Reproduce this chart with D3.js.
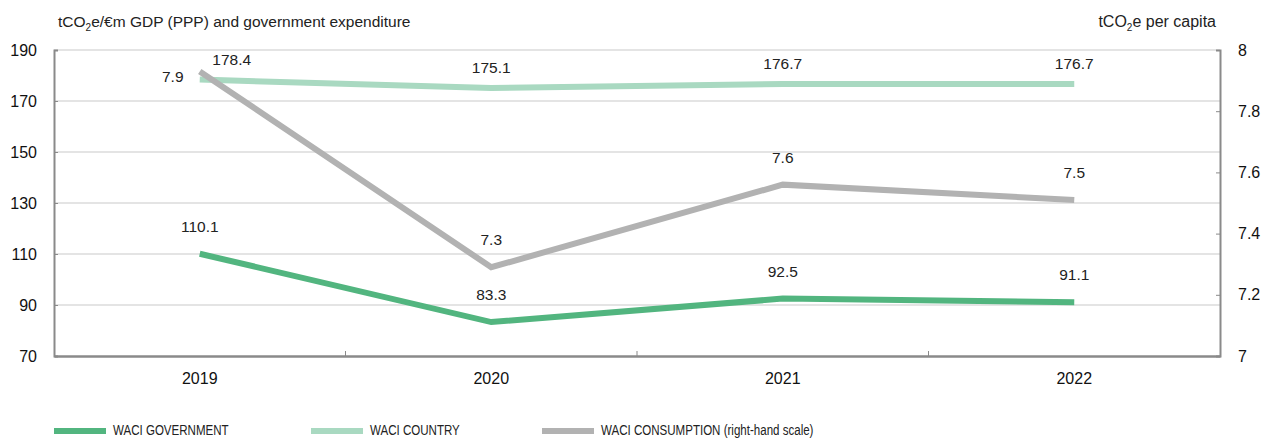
<!DOCTYPE html>
<html>
<head>
<meta charset="utf-8">
<script src="https://cdn.jsdelivr.net/npm/d3@7"></script>
<style>
  body { margin: 0; background: #fff; }
  svg { display: block; font-family: "Liberation Sans", Arial, sans-serif; }
</style>
</head>
<body>
<svg id="chart" width="1261" height="439"></svg>
<script>
// data
var years = ['2019', '2020', '2021', '2022']
var waciGovernment = [110.1, 83.3, 92.5, 91.1]
var waciCountry = [178.4, 175.1, 176.7, 176.7]
var waciConsumption = [7.93, 7.29, 7.56, 7.51]
var leftTicks = [70, 90, 110, 130, 150, 170, 190]
var rightTicks = [7, 7.2, 7.4, 7.6, 7.8, 8]
var legendLabels = ['WACI GOVERNMENT', 'WACI COUNTRY', 'WACI CONSUMPTION (right-hand scale)']

var GREEN = '#52b57f'
var LIGHT = '#a9d9c1'
var GREY = '#b2b2b2'
var AXIS = '#8a8a8a'

var m = { left: 54, right: 41, top: 50, bottom: 83 }
var W = 1261, H = 439

var svg = d3.select('#chart')

var x = d3.scaleBand().domain(years).range([m.left, W - m.right])
var yL = d3.scaleLinear().domain([70, 190]).range([H - m.bottom, m.top])
var yR = d3.scaleLinear().domain([7, 8]).range([H - m.bottom, m.top])
var cx = function (d, i) { return x(years[i]) + x.bandwidth() / 2 }

// gridlines
svg.append('g')
   .selectAll('line')
   .data(leftTicks.slice(1))
   .enter()
   .append('line')
   .attr('x1', m.left).attr('x2', W - m.right)
   .attr('y1', d => yL(d)).attr('y2', d => yL(d))
   .attr('stroke', '#c9c9c9')
   .attr('stroke-width', 1)

// left axis
var gl = svg.append('g')
            .attr('transform', 'translate(' + m.left + ',0)')
            .call(d3.axisLeft(yL).tickValues(leftTicks).tickSize(-4).tickPadding(17))
gl.select('.domain').attr('stroke', AXIS).attr('stroke-width', 2)
gl.selectAll('.tick line').attr('stroke', AXIS)
gl.selectAll('.tick text').attr('font-size', 16).attr('fill', '#111').attr('font-family', null)

// right axis
var gr = svg.append('g')
            .attr('transform', 'translate(' + (W - m.right) + ',0)')
            .call(d3.axisRight(yR).tickValues(rightTicks).tickSize(-4).tickPadding(18).tickFormat(d3.format('')))
gr.select('.domain').attr('stroke', AXIS).attr('stroke-width', 2)
gr.selectAll('.tick line').attr('stroke', AXIS)
gr.selectAll('.tick text').attr('font-size', 16).attr('fill', '#111').attr('font-family', null)

// bottom axis
var gb = svg.append('g')
            .attr('transform', 'translate(0,' + (H - m.bottom) + ')')
            .call(d3.axisBottom(x).tickSize(0).tickPadding(17))
gb.select('.domain').attr('stroke', AXIS).attr('stroke-width', 2.5)
gb.selectAll('.tick text').attr('font-size', 16).attr('fill', '#111').attr('font-family', null)
svg.append('g')
   .selectAll('line')
   .data(years.slice(1))
   .enter()
   .append('line')
   .attr('x1', d => x(d)).attr('x2', d => x(d))
   .attr('y1', H - m.bottom).attr('y2', H - m.bottom - 5)
   .attr('stroke', AXIS)
   .attr('stroke-width', 1)

// lines
var drawLine = function (values, y, color) {
  var line = d3.line().x(cx).y(d => y(d))
  svg.append('path')
     .datum(values)
     .attr('d', line)
     .attr('fill', 'none')
     .attr('stroke', color)
     .attr('stroke-width', 6)
     .attr('stroke-linejoin', 'miter')
}
drawLine(waciCountry, yL, LIGHT)
drawLine(waciGovernment, yL, GREEN)
drawLine(waciConsumption, yR, GREY)

// value labels
var drawLabels = function (values, y, fmt, dy, shift) {
  svg.append('g')
     .selectAll('text')
     .data(values)
     .enter()
     .append('text')
     .attr('x', (d, i) => cx(d, i) + (shift[i] || [0, 0])[0])
     .attr('y', (d, i) => y(d) - dy + (shift[i] || [0, 0])[1])
     .attr('text-anchor', 'middle')
     .attr('font-size', 15.5)
     .attr('fill', '#222')
     .text(d => fmt(d))
}
var f1 = d3.format('.1f')
drawLabels(waciGovernment, yL, f1, 22, [])
drawLabels(waciCountry, yL, f1, 15, [[32, 0]])
drawLabels(waciConsumption, yR, f1, 22, [[-27, 33]])

// axis titles
var title = svg.append('text').attr('x', 58).attr('y', 27).attr('font-size', 15.5).attr('fill', '#222')
title.append('tspan').text('tCO')
title.append('tspan').attr('font-size', 10).attr('dy', 4).text('2')
title.append('tspan').attr('dy', -4).text('e/€m GDP (PPP) and government expenditure')

var rtitle = svg.append('text').attr('x', 1216).attr('y', 27).attr('font-size', 16).attr('fill', '#222').attr('text-anchor', 'end')
rtitle.append('tspan').text('tCO')
rtitle.append('tspan').attr('font-size', 10).attr('dy', 4).text('2')
rtitle.append('tspan').attr('dy', -4).text('e per capita')

// legend (condensed type, squeezed horizontally)
var legendColors = [GREEN, LIGHT, GREY]
var legendX = [54, 311, 542]
var lg = svg.append('g')
            .selectAll('g')
            .data(legendLabels)
            .enter()
            .append('g')
            .attr('transform', (d, i) => 'translate(' + legendX[i] + ',431)')
lg.append('rect')
  .attr('x', 0).attr('y', -3)
  .attr('width', 52).attr('height', 6)
  .attr('fill', (d, i) => legendColors[i])
lg.append('text')
  .attr('transform', 'translate(59,4) scale(0.77,1)')
  .attr('font-size', 15)
  .attr('fill', '#222')
  .text(d => d)
</script>
</body>
</html>
